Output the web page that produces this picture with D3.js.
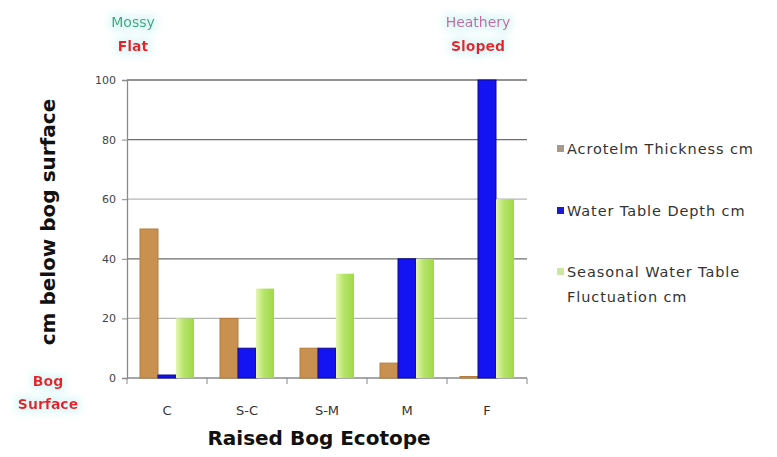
<!DOCTYPE html>
<html>
<head>
<meta charset="utf-8">
<script src="https://cdn.jsdelivr.net/npm/d3@7"></script>
<style>
  html, body { margin: 0; padding: 0; background: #fff; }
  svg { display: block; }
</style>
</head>
<body>
<svg id="chart" width="777" height="457"></svg>
<script>
// Raised bog ecotopes, from central (C) to face bank (F)
const ecotopes = ["C", "S-C", "S-M", "M", "F"];
const seriesNames = ["Acrotelm Thickness cm", "Water Table Depth cm", "Seasonal Water Table"];
const acrotelm = [50, 20, 10, 5, 0.5];
const waterTable = [1, 10, 10, 40, 100];
const seasonal = [20, 30, 35, 40, 60];
const yTicks = [0, 20, 40, 60, 80, 100];

const svg = d3.select("#chart");
const margin = { left: 127, right: 250, top: 80, bottom: 79 };
const W = 777, H = 457;

const x = d3.scaleBand().domain(ecotopes).range([margin.left, W - margin.right]);
const inner = d3.scaleBand().domain(seriesNames).range([13, 67]);
const y = d3.scaleLinear().domain([0, 100]).range([H - margin.bottom, margin.top]);

const defs = svg.append("defs");
const grad = defs.append("linearGradient").attr("id", "greenFill")
  .attr("x1", 0).attr("y1", 0).attr("x2", 1).attr("y2", 0);
grad.append("stop").attr("offset", "0%").attr("stop-color", "#e4f6b0");
grad.append("stop").attr("offset", "45%").attr("stop-color", "#b4e466");
grad.append("stop").attr("offset", "100%").attr("stop-color", "#a0d848");

const glow = defs.append("filter").attr("id", "glow")
  .attr("x", "-30%").attr("y", "-60%").attr("width", "160%").attr("height", "220%");
glow.append("feMorphology").attr("in", "SourceAlpha").attr("operator", "dilate").attr("radius", 3).attr("result", "d");
glow.append("feGaussianBlur").attr("in", "d").attr("stdDeviation", 4).attr("result", "b");
glow.append("feFlood").attr("flood-color", "#bfeff0").attr("flood-opacity", 0.55);
glow.append("feComposite").attr("in2", "b").attr("operator", "in").attr("result", "g");
const gm = glow.append("feMerge");
gm.append("feMergeNode").attr("in", "g");
gm.append("feMergeNode").attr("in", "SourceGraphic");

// gridlines
const darkGrid = new Set([100, 80, 40]);
svg.append("g").selectAll("line").data(yTicks.filter(d => d > 0)).join("line")
  .attr("x1", margin.left).attr("x2", W - margin.right)
  .attr("y1", d => y(d)).attr("y2", d => y(d))
  .attr("stroke", d => darkGrid.has(d) ? "#6e6e6e" : "#b4b4b4")
  .attr("stroke-width", 1.3);

// y axis
const yAxis = svg.append("g").attr("transform", `translate(${margin.left},0)`)
  .call(d3.axisLeft(y).tickValues(yTicks).tickSize(5).tickPadding(6));
yAxis.select(".domain").attr("stroke", "#8a8a8a").attr("stroke-width", 1.3);
yAxis.selectAll(".tick line").attr("stroke", "#8a8a8a");
yAxis.selectAll("text").attr("font-family", "DejaVu Sans, sans-serif").attr("font-size", 11).attr("fill", "#444");

// x axis with ticks at band boundaries
const xg = svg.append("g").attr("transform", `translate(0,${y(0)})`);
xg.append("line").attr("x1", margin.left).attr("x2", W - margin.right)
  .attr("stroke", "#8a8a8a").attr("stroke-width", 1.3);
const edges = ecotopes.map(d => x(d)).concat([x(ecotopes[ecotopes.length - 1]) + x.bandwidth()]);
xg.selectAll("line.tk").data(edges).join("line").attr("class", "tk")
  .attr("x1", d => d).attr("x2", d => d).attr("y1", 0).attr("y2", 6)
  .attr("stroke", "#8a8a8a");
xg.selectAll("text").data(ecotopes).join("text")
  .attr("x", d => x(d) + x.bandwidth() / 2).attr("y", 37)
  .attr("text-anchor", "middle")
  .attr("font-family", "DejaVu Sans, sans-serif").attr("font-size", 13).attr("fill", "#333")
  .text(d => d);

// bars
const rows = ecotopes.map((e, i) => ({ e, vals: [acrotelm[i], waterTable[i], seasonal[i]] }));
const fills = ["#c8914f", "#1414f2", "url(#greenFill)"];
const strokes = ["#b57c3c", "#0a0a90", "none"];
const groups = svg.append("g").selectAll("g").data(rows).join("g")
  .attr("transform", d => `translate(${x(d.e)},0)`);
groups.selectAll("rect").data(d => d.vals.map((v, k) => ({ v, k }))).join("rect")
  .attr("x", d => inner(seriesNames[d.k]))
  .attr("width", inner.bandwidth())
  .attr("y", d => y(d.v))
  .attr("height", d => y(0) - y(d.v))
  .attr("fill", d => fills[d.k])
  .attr("stroke", d => strokes[d.k])
  .attr("stroke-width", 1);

// legend
const legend = [
  { c: "#a89a8a", lines: ["Acrotelm Thickness cm"], y: 149 },
  { c: "#1a1ad0", lines: ["Water Table Depth cm"], y: 211 },
  { c: "#cfe6a0", lines: ["Seasonal Water Table", "Fluctuation cm"], y: 272 }
];
const lg = svg.append("g");
legend.forEach(item => {
  lg.append("rect").attr("x", 557).attr("y", item.y - 4).attr("width", 7).attr("height", 7).attr("fill", item.c);
  item.lines.forEach((t, j) => {
    lg.append("text").attr("x", 567).attr("y", item.y + 5 + j * 25)
      .attr("font-family", "DejaVu Sans, sans-serif").attr("font-size", 14.5)
      .attr("letter-spacing", 0.9).attr("fill", "#333").text(t);
  });
});

// axis titles
svg.append("text").attr("x", 319).attr("y", 445).attr("text-anchor", "middle")
  .attr("font-family", "DejaVu Sans, sans-serif").attr("font-weight", "bold")
  .attr("font-size", 20).attr("fill", "#111").text("Raised Bog Ecotope");
svg.append("text").attr("transform", "translate(55,222) rotate(-90)").attr("text-anchor", "middle")
  .attr("font-family", "DejaVu Sans, sans-serif").attr("font-weight", "bold")
  .attr("font-size", 20).attr("fill", "#111").text("cm below bog surface");

// site annotations
const notes = [
  { t: "Mossy", x: 133, y: 27, c: "#3aa87c", w: "normal", s: 14 },
  { t: "Flat", x: 133, y: 51, c: "#e3202a", w: "bold", s: 14 },
  { t: "Heathery", x: 478, y: 27, c: "#c26aa0", w: "normal", s: 14 },
  { t: "Sloped", x: 478, y: 51, c: "#e3202a", w: "bold", s: 14 },
  { t: "Bog", x: 48, y: 386, c: "#e3202a", w: "bold", s: 14 },
  { t: "Surface", x: 48, y: 409, c: "#e3202a", w: "bold", s: 14 }
];
svg.append("g").selectAll("text").data(notes).join("text")
  .attr("x", d => d.x).attr("y", d => d.y).attr("text-anchor", "middle")
  .attr("font-family", "DejaVu Sans, sans-serif")
  .attr("font-weight", d => d.w).attr("font-size", d => d.s)
  .attr("fill", d => d.c).attr("filter", "url(#glow)")
  .text(d => d.t);
</script>
</body>
</html>
